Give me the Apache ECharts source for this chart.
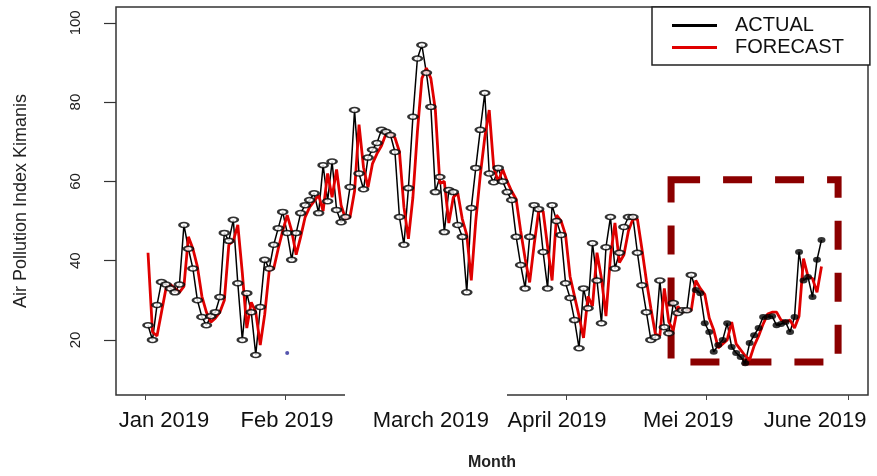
<!DOCTYPE html>
<html>
<head>
<meta charset="utf-8">
<script src="https://cdn.jsdelivr.net/npm/echarts@6/dist/echarts.min.js"></script>
<style>
  html, body { margin: 0; padding: 0; background: #fff; }
  #chart { width: 877px; height: 476px; }
</style>
</head>
<body>
<div id="chart"></div>
<script>
// daily air pollution index (day 1 = 1 Jan 2019)
const actual = [
  23.7, 20, 28.8, 34.6, 34, 33, 32, 34, 49, 43,
  38, 30, 25.8, 23.7, 26, 27, 30.8, 47, 45, 50.3,
  34.3, 20, 31.8, 27, 16.2, 28.3, 40.2, 38, 44, 48.2,
  52.3, 47, 40.2, 47, 52, 54, 55.3, 57, 52, 64.1,
  55, 65, 52.8, 49.7, 51, 58.6, 78, 62, 58, 66,
  68, 69.7, 73, 72.5, 71.7, 67.4, 51, 44, 58.3, 76.3,
  91, 94.4, 87.4, 78.8, 57.3, 61.1, 47.2, 57.8, 57.3, 49,
  46, 32, 53.3, 63.4, 73, 82.3, 62, 59.8, 63.4, 60,
  57.3, 55.3, 46, 38.9, 33, 46, 54, 53, 42.2, 33,
  54, 50, 46.5, 34.3, 30.6, 25, 17.9, 33, 28, 44.4,
  35, 24.2, 43.4, 51, 38, 42, 48.5, 51, 51, 42,
  33.8, 27, 20, 20.7, 35, 23.2, 21.7, 29.3, 26.8, 27.5,
  27.5, 36.4, 32.6, 31.8, 24.2, 22, 17, 18.7, 20, 24.2,
  18.2, 16.7, 15.7, 14.1, 19.2, 21.2, 23, 25.8, 25.8, 26,
  23.7, 24, 24.5, 22, 25.8, 42.2, 35, 35.9, 30.8, 40.2,
  45.2
];

const forecast = [
  42, 22, 21, 27, 33, 34, 33, 32, 33.5, 46,
  43, 38.5, 31, 27, 24.5, 25.5, 27, 30, 44, 45,
  49, 37, 23, 29.5, 27, 18.7, 26.5, 37.5, 38, 43,
  47.5, 51.5, 47.5, 41.5, 46, 51, 53.5, 55, 56.5, 52.5,
  62, 56, 63, 54, 50.5, 51, 57.5, 74.3, 63.5, 58.5,
  64.5, 67, 69, 72, 72, 71, 67.5, 53.5, 45.5, 56,
  72.5, 86, 88.6, 86, 78, 59.5, 60, 49.5, 56, 57,
  50.5, 46.5, 35, 50, 61.5, 71, 78, 63.5, 60, 63,
  60, 57.5, 55.5, 47.5, 40.5, 34.5, 44, 52.5, 52.5, 43.5,
  35, 51.5, 50, 46.5, 36, 31, 26, 20.5, 31, 28.5,
  42, 35.5, 26, 41, 49.5, 39.5, 41.5, 47.5, 50.5, 50.5,
  43, 35, 28, 21.5, 21, 33, 24.5, 22.5, 28.5, 27,
  27.5, 27.5, 35, 33, 31.5, 25.5, 22.5, 18, 19, 20,
  24.5, 19, 17.5, 16, 15, 18.5, 21, 24, 26.5, 27,
  27, 25, 24.5, 25, 23, 26, 40.5, 36, 35.5, 32,
  38.5
];

// points from this day on are drawn as filled markers (test period)
const filledFrom = 123;

// month ticks and where the month names sit (in day units)
const monthNames = ['Jan 2019', 'Feb 2019', 'March 2019', 'April 2019', 'Mei 2019', 'June 2019'];
const monthTicks = [0.33, 31.5, 62.7, 94.1, 125.3, 156.9];
const monthLabelAt = [4.56, 31.96, 64.0, 92.1, 121.3, 149.6];

const yTicks = [20, 40, 60, 80, 100];

// highlighted test window [day, value] corners
const boxFrom = [117.5, 60.4];
const boxTo = [154.7, 14.4];

// stray blue dot in the original figure
const strayDot = [[32, 16.7]];

const FONT = '"Liberation Sans", Arial, sans-serif';

const actualPts = actual.map((v, i) => [i + 1, v]);
const forecastPts = forecast.map((v, i) => [i + 1, v]);
const markerPts = actual.map((v, i) => {
  const day = i + 1;
  if (day >= filledFrom) {
    return { value: [day, v], symbol: 'circle', symbolSize: [8, 6] };
  }
  return { value: [day, v] };
});

const chart = echarts.init(document.getElementById('chart'));

chart.setOption({
  animation: false,
  backgroundColor: '#fff',
  textStyle: { fontFamily: FONT },
  grid: {
    left: 116,
    right: 9,
    top: 7,
    bottom: 81,
    show: true,
    borderColor: '#333',
    borderWidth: 1.5,
    backgroundColor: 'transparent'
  },
  legend: {
    left: 652,
    top: 7,
    orient: 'vertical',
    padding: [8, 26, 7, 20],
    itemGap: 1,
    itemWidth: 45,
    itemHeight: 3,
    borderColor: '#222',
    borderWidth: 1.5,
    borderRadius: 0,
    backgroundColor: '#fff',
    data: [
      { name: 'ACTUAL', icon: 'rect' },
      { name: 'FORECAST', icon: 'rect' }
    ],
    textStyle: {
      fontFamily: FONT,
      fontSize: 20,
      lineHeight: 21,
      color: '#111',
      padding: [0, 0, 0, 13]
    }
  },
  xAxis: {
    type: 'value',
    min: -6.13,
    max: 161.36,
    name: 'Month',
    nameLocation: 'middle',
    nameGap: 60,
    nameTextStyle: { fontFamily: FONT, fontSize: 16, fontWeight: 'bold', color: '#222' },
    axisLine: { show: false, onZero: false },
    splitLine: { show: false },
    axisTick: {
      show: true,
      length: 5,
      customValues: monthTicks,
      lineStyle: { color: '#444', width: 1 }
    },
    axisLabel: {
      customValues: monthLabelAt,
      margin: 15,
      fontFamily: FONT,
      fontSize: 22,
      color: '#111',
      formatter: (v) => {
        const k = monthLabelAt.indexOf(v);
        return k >= 0 ? monthNames[k] : '';
      }
    }
  },
  yAxis: {
    type: 'value',
    min: 6.1,
    max: 104,
    name: 'Air Pollution Index Kimanis',
    nameLocation: 'middle',
    nameGap: 86,
    nameTextStyle: { fontFamily: FONT, fontSize: 18, color: '#222' },
    axisLine: { show: false, onZero: false },
    splitLine: { show: false },
    axisTick: {
      show: true,
      length: 12,
      customValues: yTicks,
      lineStyle: { color: '#333', width: 1.2 }
    },
    axisLabel: {
      customValues: yTicks,
      rotate: 90,
      margin: 33,
      fontFamily: FONT,
      fontSize: 15,
      color: '#222'
    }
  },
  series: [
    {
      name: 'ACTUAL',
      type: 'line',
      data: actualPts,
      showSymbol: false,
      color: '#000',
      lineStyle: { color: '#000', width: 1.5 },
      z: 2,
      markArea: {
        silent: true,
        itemStyle: {
          color: 'rgba(0,0,0,0)',
          borderColor: '#8b0000',
          borderWidth: 7,
          borderType: [29, 23]
        },
        data: [[{ coord: boxFrom }, { coord: boxTo }]]
      }
    },
    {
      name: 'FORECAST',
      type: 'line',
      data: forecastPts,
      showSymbol: false,
      color: '#e00000',
      lineStyle: { color: '#e00000', width: 2.8 },
      z: 3
    },
    {
      name: 'ACTUAL',
      type: 'scatter',
      data: markerPts,
      symbol: 'emptyCircle',
      symbolSize: [9, 5],
      itemStyle: { color: '#000', borderWidth: 1 },
      z: 4
    },
    {
      name: 'dot',
      type: 'scatter',
      data: strayDot,
      symbolSize: 4,
      itemStyle: { color: '#2b2b9a' },
      z: 4
    }
  ],
  graphic: [
    {
      // the original has a white patch over the bottom frame under "March 2019"
      type: 'rect',
      shape: { x: 345, y: 391, width: 162, height: 11 },
      style: { fill: '#fff' },
      z: 100
    }
  ]
});
</script>
</body>
</html>
